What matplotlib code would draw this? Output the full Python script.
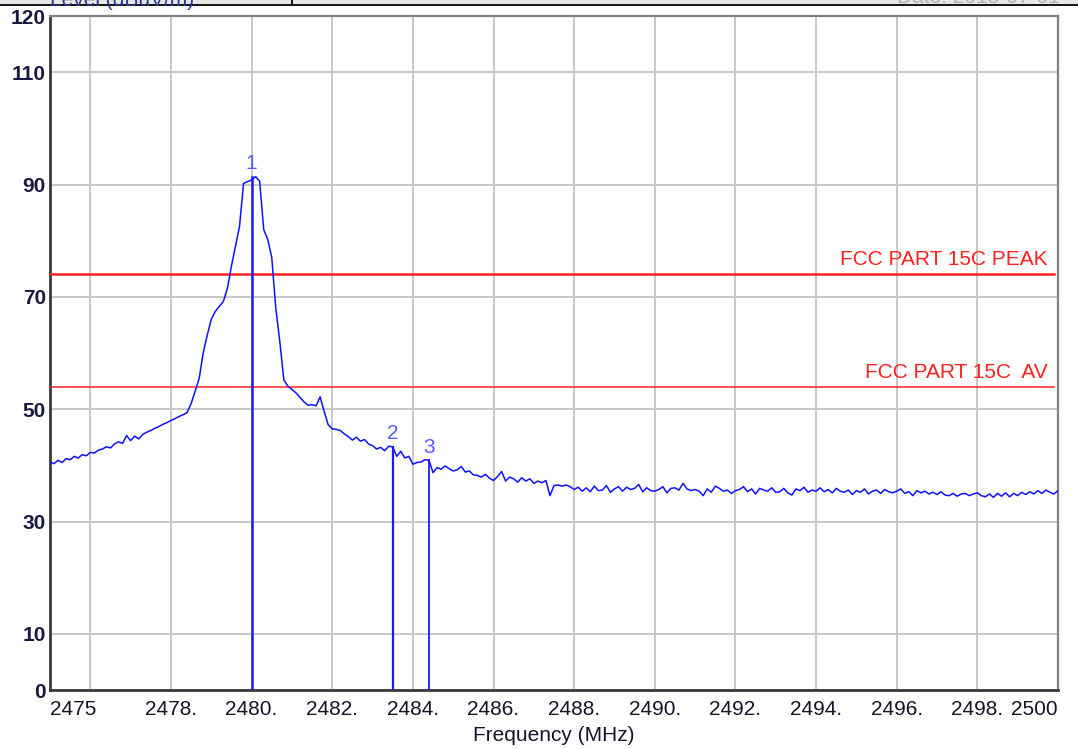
import numpy as np
import matplotlib
matplotlib.use("Agg")
import matplotlib.pyplot as plt
from matplotlib.patches import Rectangle
from matplotlib.lines import Line2D

# ---------------- data ----------------
freq_start, freq_stop, freq_step = 2475.0, 2500.0, 0.1
level = [
    40.6,
    40.3, 40.9, 40.5, 41.2, 41.0, 41.6, 41.3, 41.9, 41.7, 42.3,   # 2475.1-2476.0
    42.2, 42.7, 42.9, 43.3, 43.1, 43.8, 44.2, 43.9, 45.3, 44.4,   # 2476.1-2477.0
    45.2, 44.7, 45.5, 45.9, 46.2, 46.6, 46.9, 47.3, 47.6, 48.0,   # 2477.1-2478.0
    48.3, 48.7, 49.0, 49.4, 51.0, 53.2, 55.5, 60.0, 63.2, 66.0,   # 2478.1-2479.0
    67.4, 68.3, 69.2, 71.5, 75.5, 79.0, 82.5, 90.2, 90.5, 90.8,   # 2479.1-2480.0
    91.4, 90.6, 82.0, 80.2, 77.0, 68.0, 62.0, 55.2, 54.1, 53.5,   # 2480.1-2481.0
    52.9, 52.1, 51.3, 50.7, 50.8, 50.6, 52.2, 49.6, 47.2, 46.5,   # 2481.1-2482.0
    46.4, 46.2, 45.6, 45.1, 44.5, 45.0, 44.3, 44.6, 43.8, 43.5,   # 2482.1-2483.0
    42.9, 43.2, 42.6, 43.4, 43.3, 41.6, 42.5, 41.3, 41.6, 40.2,   # 2483.1-2484.0
    40.5, 40.6, 41.0, 40.9, 38.7, 39.6, 39.3, 39.9, 39.4, 39.0,   # 2484.1-2485.0
    39.2, 39.8, 38.8, 39.0, 38.3, 38.2, 37.9, 38.4, 37.7, 37.3,   # 2485.1-2486.0
    38.0, 38.9, 37.2, 37.9, 37.6, 37.0, 37.8, 37.2, 37.6, 36.8,   # 2486.1-2487.0
    37.2, 36.9, 37.3, 34.6, 36.4, 36.5, 36.3, 36.5, 36.2, 35.7,   # 2487.1-2488.0
    36.1, 35.4, 36.0, 35.3, 36.3, 35.5, 35.6, 36.4, 35.2, 35.8,   # 2488.1-2489.0
    36.2, 35.4, 36.1, 35.7, 35.9, 36.6, 35.3, 36.0, 35.5, 35.4,   # 2489.1-2490.0
    35.7, 36.2, 35.1, 35.9, 36.0, 35.6, 36.8, 35.8, 35.5, 35.7,   # 2490.1-2491.0
    35.4, 34.6, 35.8, 35.2, 36.3, 35.9, 35.4, 35.6, 35.0, 35.5,   # 2491.1-2492.0
    35.7, 36.2, 35.3, 35.8, 34.9, 35.9, 35.6, 35.4, 36.0, 35.2,   # 2492.1-2493.0
    35.3, 35.9, 35.1, 34.7, 35.8, 35.5, 36.1, 35.2, 35.6, 35.4,   # 2493.1-2494.0
    36.0, 35.3, 35.7, 35.1, 35.9, 35.4, 35.2, 35.6, 34.8, 35.5,   # 2494.1-2495.0
    35.2, 35.8, 34.9, 35.4, 35.6, 35.0, 35.7, 35.3, 35.1, 35.4,   # 2495.1-2496.0
    35.8, 35.0, 35.3, 34.6, 35.5, 35.1, 35.4, 34.9, 35.2, 34.8,   # 2496.1-2497.0
    35.3, 34.7, 34.6, 35.0, 34.5, 34.9, 35.0, 34.6, 34.9, 35.1,   # 2497.1-2498.0
    34.6, 34.4, 34.9, 34.3, 35.0, 34.5, 35.1, 34.4, 35.0, 34.6,   # 2498.1-2499.0
    35.2, 34.8, 35.3, 34.9, 35.5, 35.0, 35.6, 35.2, 34.9, 35.5,   # 2499.1-2500.0
]
freq = np.round(np.arange(len(level)) * freq_step + freq_start, 2)

limit_names = ["FCC PART 15C PEAK", "FCC PART 15C  AV"]
limit_values = [74.0, 54.0]

marker_ids = ["1", "2", "3"]
marker_freq = [2480.0, 2483.5, 2484.4]
marker_level = [91.4, 43.3, 40.9]

x_ticks = [2475, 2476, 2478, 2480, 2482, 2484, 2486, 2488, 2490, 2492, 2494, 2496, 2498, 2500]
x_labels = ["2475", "", "2478.", "2480.", "2482.", "2484.", "2486.", "2488.", "2490.",
            "2492.", "2494.", "2496.", "2498.", "2500"]
y_ticks = [0, 10, 30, 50, 70, 90, 110, 120]
y_labels = ["0", "10", "30", "50", "70", "90", "110", "120"]

# ---------------- figure ----------------
plt.rcParams['font.family'] = ['Liberation Sans', 'DejaVu Sans']
W, H = 1078, 749
fig = plt.figure(figsize=(W / 100, H / 100), dpi=100)
fig.patch.set_facecolor("white")

# top strip (cut-off header, as in the reference)
fig.patches.append(Rectangle((0, 1 - 4 / H), 1, 4 / H, transform=fig.transFigure,
                             facecolor="#e6e6e6", edgecolor="none", zorder=0))
fig.lines.append(Line2D([0, 1], [1 - 4.5 / H, 1 - 4.5 / H], transform=fig.transFigure,
                        color="black", lw=1.3))
fig.lines.append(Line2D([292 / W, 292 / W], [1 - 4.5 / H, 1], transform=fig.transFigure,
                        color="black", lw=1.3))
fig.text(50 / W, 1 - 10 / H, "Level (dBuV/m)", color="#2a3a90", fontsize=15,
         ha="left", va="bottom")
fig.text(1060 / W, 1 - 7 / H, "Date: 2015-07-01", color="#b0b0b0", fontsize=15,
         ha="right", va="bottom")

ax = fig.add_axes([50 / W, 1 - 690 / H, 1008 / W, 674 / H])
ax.set_xlim(freq_start, freq_stop)
ax.set_ylim(0, 120)

ax.set_xticks(x_ticks)
ax.set_xticklabels(x_labels, fontsize=15, color="#15152a")
ax.set_yticks(y_ticks)
ax.set_yticklabels(y_labels, fontsize=15, fontweight="bold", color="#1a1a40")
xl = ax.get_xticklabels()
xl[0].set_ha("left")
xl[-1].set_ha("right")
ax.tick_params(axis="both", length=0)
ax.tick_params(axis="x", pad=7)
ax.tick_params(axis="y", pad=3)
ax.grid(True, color="#c8c8c8", lw=1.4)
ax.set_axisbelow(True)

for side in ["left", "bottom"]:
    ax.spines[side].set_color("#3a3a3a")
    ax.spines[side].set_linewidth(2.0)
for side in ["top", "right"]:
    ax.spines[side].set_color("#808080")
    ax.spines[side].set_linewidth(1.6)

ax.set_xlabel("Frequency (MHz)", fontsize=15, color="#15152a", labelpad=5)

# limit lines
limit_lw = [1.8, 1.1]
for name, val, lw in zip(limit_names, limit_values, limit_lw):
    ax.plot([freq_start, 2499.9], [val, val], color="#ff2020", lw=lw, zorder=3)
    ax.text(2499.75, val + 0.9, name, color="#ff2020", fontsize=15,
            ha="right", va="bottom", zorder=4)

# trace
ax.plot(freq, level, color="#1010ff", lw=1.1, zorder=4)

# markers
marker_lw = [1.8, 1.6, 1.3]
for mid, mf, ml, lw in zip(marker_ids, marker_freq, marker_level, marker_lw):
    ax.plot([mf, mf], [0, ml], color="#1a1aff", lw=lw, zorder=5)
    ax.text(mf, ml + 0.6, mid, color="#5a5aff", fontsize=15, ha="center",
            va="bottom", zorder=6)

fig.savefig("out.png", dpi=100, facecolor="white")
